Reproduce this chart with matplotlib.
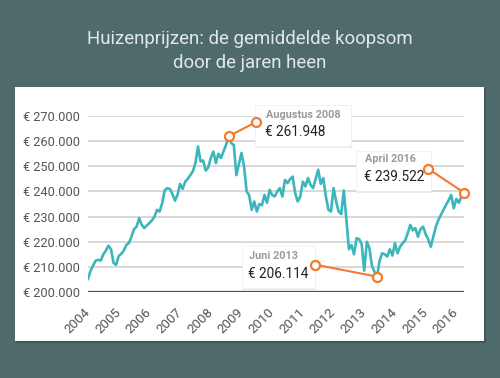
import matplotlib
matplotlib.use("Agg")
import matplotlib.pyplot as plt
import matplotlib.transforms as mtransforms
from matplotlib.patches import Rectangle

plt.rcParams['font.family'] = ['Roboto', 'DejaVu Sans']

# monthly average price (thousands of euro), Jan 2004 - Apr 2016
prices_k = [
    205.2, 208.5, 210.5, 212.5, 212.8, 212.5, 215.0, 216.5, 218.4, 217.0, 211.5, 210.8,  # 2004
    214.3, 215.2, 216.5, 218.7, 219.5, 222.0, 225.0, 226.0, 229.4, 226.7, 225.4, 226.5,  # 2005
    227.4, 228.5, 230.0, 232.7, 232.0, 235.3, 240.5, 241.3, 241.0, 239.0, 236.3, 238.6,  # 2006
    243.0, 241.0, 243.9, 245.0, 246.5, 248.0, 251.3, 257.9, 251.9, 252.3, 248.3, 249.5,  # 2007
    253.3, 255.8, 251.3, 255.0, 253.3, 256.0, 258.6, 261.948, 259.2, 258.5, 246.5, 251.0,  # 2008
    255.3, 250.0, 240.0, 238.5, 232.7, 236.0, 232.0, 235.0, 234.5, 238.6, 235.5, 240.6,  # 2009
    238.6, 238.0, 240.0, 241.3, 238.0, 244.6, 243.3, 244.9, 245.9, 239.3, 236.0, 238.0,  # 2010
    243.9, 242.0, 245.3, 242.6, 241.3, 245.0, 248.6, 243.0, 245.3, 238.0, 232.7, 232.0,  # 2011
    241.3, 236.0, 232.0, 231.0, 240.4, 229.0, 217.0, 218.7, 215.0, 221.4, 221.0, 219.0,  # 2012
    208.5, 220.0, 217.5, 210.5, 208.0, 206.114, 212.5, 215.4, 215.0, 214.1, 217.0, 214.5,  # 2013
    219.4, 215.4, 218.0, 219.4, 220.5, 223.4, 226.7, 224.5, 225.4, 222.0, 225.0, 226.0,  # 2014
    223.0, 221.0, 218.0, 222.0, 226.0, 228.7, 230.7, 232.7, 234.7, 236.5, 238.6, 233.3,  # 2015
    237.0, 235.5, 238.0, 239.522,  # 2016
]
prices = [p * 1000 for p in prices_k]
years = [str(y) for y in range(2004, 2017)]
yticks = [200000, 210000, 220000, 230000, 240000, 250000, 260000, 270000]

ann_labels = ['Augustus 2008', 'Juni 2013', 'April 2016']
ann_index = [55, 113, 147]

# layout of the callouts, in pixels relative to the marked point
# (circle dx, dy, box left, bottom, width, height, text dx)
ann_layout = [
    (27, 14, 26, -10, 96, 41, 37),
    (-62, 12, -135, -11, 73, 42, -128),
    (-36, 24, -108, 2, 75, 40, -99),
]

bg = '#4e6a6b'
teal = '#3bb6bb'
orange = '#f27b2c'


def euro(v):
    return '€ ' + f'{v:,.0f}'.replace(',', '.')


fig = plt.figure(figsize=(5.0, 3.78), dpi=100)
fig.patch.set_facecolor(bg)

# white panel with a faint shadow
fig.patches.append(Rectangle((16 / 500, 35 / 378), 470 / 500, 255 / 378,
                             transform=fig.transFigure, facecolor='#3f5757',
                             edgecolor='none', zorder=-2))
fig.patches.append(Rectangle((15 / 500, 37 / 378), 469 / 500, 254 / 378,
                             transform=fig.transFigure, facecolor='white',
                             edgecolor='none', zorder=-1))

fig.text(0.5, 1 - 39 / 378, 'Huizenprijzen: de gemiddelde koopsom', ha='center',
         va='center', color='#e2e8e8', fontsize=13.4)
fig.text(0.5, 1 - 63 / 378, 'door de jaren heen', ha='center',
         va='center', color='#e2e8e8', fontsize=13.4)

ax = fig.add_axes([88 / 500, 86 / 378, 376 / 500, 176 / 378])
ax.set_zorder(2)
ax.set_facecolor('none')
x = list(range(len(prices)))
ax.set_xlim(0, len(prices) - 1)
ax.set_ylim(200000, 270000)

for t in yticks[1:]:
    ax.axhline(t, color='#d6d6d6', lw=1.3, zorder=1)
ax.axhline(200000, color='#4a4a4a', lw=1.6, zorder=3)

ax.plot(x, prices, color=teal, lw=1.9, zorder=2, solid_joinstyle='round')

ax.set_yticks(yticks)
ax.set_yticklabels([euro(t) for t in yticks])
ax.set_xticks(x[::12])
ax.set_xticklabels(years, rotation=45, ha='right', va='center', rotation_mode='anchor')
ax.tick_params(axis='y', length=0, pad=6, labelsize=9.2, labelcolor='#555555')
ax.tick_params(axis='x', length=0, pad=13, labelsize=9.6, labelcolor='#555555')
for s in ax.spines.values():
    s.set_visible(False)

px = mtransforms.Affine2D().scale(1 / fig.dpi)
for label, i, lay in zip(ann_labels, ann_index, ann_layout):
    cdx, cdy, bx, by, bw, bh, tdx = lay
    tr = px + fig.dpi_scale_trans + mtransforms.ScaledTranslation(x[i], prices[i], ax.transData)
    # shadow + box
    ax.add_patch(Rectangle((bx + 1, by - 2), bw, bh, transform=tr, facecolor='#00000014',
                           edgecolor='none', zorder=5, clip_on=False))
    ax.add_patch(Rectangle((bx, by), bw, bh, transform=tr, facecolor='white',
                           edgecolor='#eeeeee', lw=0.5, zorder=6, clip_on=False))
    ax.text(tdx, by + 31.5, label, transform=tr, ha='left', va='center', fontsize=7.8,
            fontweight='bold', color='#9a9a9a', zorder=7)
    ax.text(tdx - 1, by + 14, euro(prices[i]), transform=tr, ha='left', va='center',
            fontsize=9.8, color='#222222', zorder=7)
    ax.plot([0, cdx], [0, cdy], transform=tr, color=orange, lw=1.5, zorder=8,
            marker='o', markersize=6.5, markerfacecolor='white', markeredgecolor=orange,
            markeredgewidth=1.6, clip_on=False)

fig.savefig('out.png', dpi=100, facecolor=fig.get_facecolor())
